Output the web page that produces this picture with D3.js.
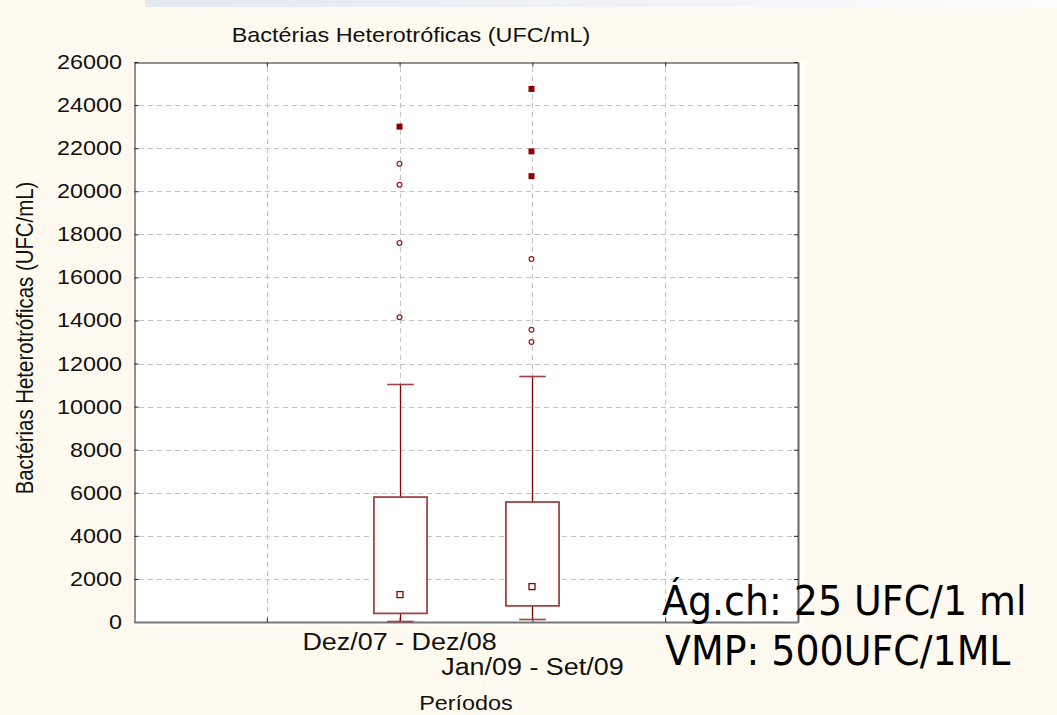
<!DOCTYPE html>
<html><head><meta charset="utf-8">
<script src="https://cdn.jsdelivr.net/npm/d3@7"></script>
<style>html,body{margin:0;padding:0;background:#fffaef;} svg{display:block}</style>
</head>
<body>
<svg id="chart" width="1057" height="715"></svg>
<script>
// ---- data ----
const title = "Bactérias Heterotróficas (UFC/mL)";
const yLabel = "Bactérias Heterotróficas (UFC/mL)";
const xLabel = "Períodos";
const categories = ["Dez/07 - Dez/08", "Jan/09 - Set/09"];
const medians = [1250, 1620];
const q1 = [400, 750];
const q3 = [5800, 5570];
const whiskerLow = [50, 150];
const whiskerHigh = [11050, 11420];
const outliers = [[21280, 20300, 17600, 14150], [16850, 13570, 13000]];
const extremes = [[23000], [24750, 21850, 20700]];
const yTicks = [0, 2000, 4000, 6000, 8000, 10000, 12000, 14000, 16000, 18000, 20000, 22000, 24000, 26000];
const xGrid = [-1, 0, 1, 2];
const notes = ["Ág.ch: 25 UFC/1 ml", "VMP: 500UFC/1ML"];

// ---- layout ----
const svg = d3.select("#chart");
const L = 134, R = 798, T = 62, B = 622;
const SX = 1.17;
const red = "#8b0000";

const x = d3.scaleLinear().domain([-2, 3]).range([L, R]);
const y = d3.scaleLinear().domain([0, 26000]).range([B, T]);
const step = x(1) - x(0);
const boxW = step * 0.4, capW = step * 0.2;

// banner
const defs = svg.append("defs");
const grad = defs.append("linearGradient").attr("id", "ban").attr("x1", 0).attr("x2", 1);
grad.append("stop").attr("offset", 0).attr("stop-color", "#e3e7ef");
grad.append("stop").attr("offset", 1).attr("stop-color", "#fdfdfe");
svg.append("rect").attr("x", 145).attr("y", 0).attr("width", 912).attr("height", 7).attr("fill", "url(#ban)");

// plot background
svg.append("rect").attr("x", L).attr("y", T).attr("width", R - L + 6).attr("height", B - T + 3).attr("fill", "#fff");

// grid
const grid = svg.append("g").attr("stroke", "#c4c4c4").attr("stroke-dasharray", "5,4").attr("stroke-width", 1);
grid.selectAll("line.h").data(yTicks.filter(d => d > 0 && d < 26000)).join("line")
  .attr("x1", L + 5).attr("x2", R - 5)
  .attr("y1", d => Math.round(y(d)) + 0.5).attr("y2", d => Math.round(y(d)) + 0.5);
grid.selectAll("line.v").data(xGrid).join("line")
  .attr("y1", T + 5).attr("y2", B - 4)
  .attr("x1", d => Math.round(x(d)) + 0.5).attr("x2", d => Math.round(x(d)) + 0.5);

// axes with inward ticks
const axL = d3.axisLeft(y).tickValues(yTicks).tickSizeInner(-4).tickSizeOuter(0).tickFormat("");
const axR = d3.axisRight(y).tickValues(yTicks).tickSizeInner(-4).tickSizeOuter(0).tickFormat("");
const axB = d3.axisBottom(x).tickValues(xGrid).tickSizeInner(-4).tickSizeOuter(0).tickFormat("");
const axT = d3.axisTop(x).tickValues(xGrid).tickSizeInner(-4).tickSizeOuter(0).tickFormat("");
svg.append("g").attr("transform", `translate(${L + 0.5},0)`).call(axL).call(g => g.selectAll("line,path").attr("stroke", "#222"));
svg.append("g").attr("transform", `translate(0,${T + 0.5})`).call(axT).call(g => g.selectAll("line,path").attr("stroke", "#222"));
svg.append("g").attr("transform", `translate(${R},0)`).call(axR).call(g => { g.select("path").attr("stroke", "#666").attr("stroke-width", 2); g.selectAll("line").attr("stroke", "#222"); });
svg.append("g").attr("transform", `translate(0,${B})`).call(axB).call(g => { g.select("path").attr("stroke", "#777").attr("stroke-width", 2); g.selectAll("line").attr("stroke", "#222"); });

// text helper (horizontal stretch like the source)
function stext(px, py, str, size, anchor) {
  return svg.append("text")
    .attr("transform", `translate(${px},${py}) scale(${SX},1)`)
    .attr("text-anchor", anchor)
    .attr("font-family", "'Liberation Sans', Arial, sans-serif")
    .attr("font-size", size).attr("fill", "#111").text(str);
}

// y tick labels
yTicks.forEach(v => stext(122, y(v) + 7, d3.format("d")(v), 20, "end"));

// title and axis labels
stext(411, 42, title, 20, "middle");
stext((L + R) / 2, 710, xLabel, 20, "middle");
svg.append("text")
  .attr("transform", `translate(33,338) scale(${SX},1) rotate(-90)`)
  .attr("text-anchor", "middle")
  .attr("font-family", "'Liberation Sans', Arial, sans-serif")
  .attr("font-size", 20.4).attr("fill", "#111").text(yLabel);

// category labels (staggered)
categories.forEach((c, i) => stext(x(i), 650 + i * 25, c, 23, "middle"));

// boxes
categories.forEach((c, i) => {
  const cx = Math.round(x(i)) + 0.5;
  const g = svg.append("g");
  g.append("line").attr("x1", cx).attr("x2", cx).attr("y1", y(whiskerHigh[i])).attr("y2", y(q3[i]))
    .attr("stroke", red).attr("stroke-width", 1.3);
  g.append("line").attr("x1", cx).attr("x2", cx).attr("y1", y(q1[i])).attr("y2", y(whiskerLow[i]))
    .attr("stroke", red).attr("stroke-width", 1.3);
  [whiskerHigh[i], whiskerLow[i]].forEach(v =>
    g.append("line").attr("x1", cx - capW / 2).attr("x2", cx + capW / 2)
      .attr("y1", Math.round(y(v)) + 0.5).attr("y2", Math.round(y(v)) + 0.5)
      .attr("stroke", "#a04040").attr("stroke-width", 1.6));
  g.append("rect").attr("x", cx - boxW / 2).attr("y", y(q3[i]))
    .attr("width", boxW).attr("height", y(q1[i]) - y(q3[i]))
    .attr("fill", "#fff").attr("stroke", "#a04545").attr("stroke-width", 1.8);
  g.append("rect").attr("x", cx - 3.5).attr("y", y(medians[i]) - 3.5).attr("width", 6).attr("height", 6)
    .attr("fill", "#fff").attr("stroke", red).attr("stroke-width", 1.3);
  g.selectAll("circle").data(outliers[i]).join("circle")
    .attr("cx", cx - 1).attr("cy", d => y(d)).attr("r", 2.4)
    .attr("fill", "#fff").attr("stroke", "#a01818").attr("stroke-width", 1.2);
  g.selectAll("rect.ext").data(extremes[i]).join("rect").attr("class", "ext")
    .attr("x", cx - 4).attr("y", d => y(d) - 3).attr("width", 6).attr("height", 6)
    .attr("fill", red);
});

// annotation
notes.forEach((t, i) => {
  svg.append("text")
    .attr("transform", `translate(${662 + i * 3},${615 + i * 50}) scale(0.925,1)`)
    .attr("font-family", "'DejaVu Sans', Verdana, sans-serif")
    .attr("font-size", 41).attr("fill", "#000").text(t);
});
</script>
</body></html>
